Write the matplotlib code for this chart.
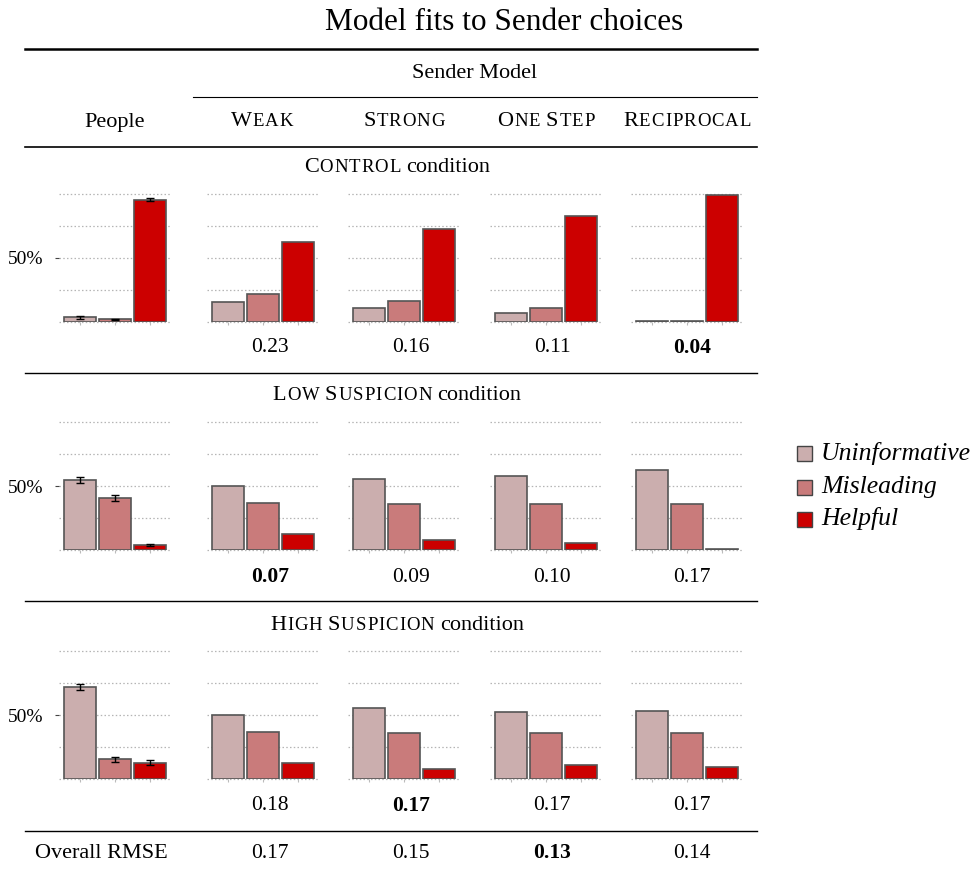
import numpy as np
import matplotlib
matplotlib.use("Agg")
import matplotlib.pyplot as plt
from matplotlib.lines import Line2D
from matplotlib.patches import Rectangle
from matplotlib.offsetbox import TextArea, HPacker, AnnotationBbox

SERIF = "Liberation Serif"
plt.rcParams["font.family"] = [SERIF, "DejaVu Serif"]

# ---------------------------------------------------------------- data
categories = ["Uninformative", "Misleading", "Helpful"]
bar_colors = ["#CBAEAE", "#C97B7B", "#CC0000"]
models = ["Weak", "Strong", "One Step", "Reciprocal"]
conditions = ["Control", "Low Suspicion", "High Suspicion"]

# share of sender choices per message type (people, then each model)
control_people = [0.034, 0.019, 0.955]
control_people_err = [0.010, 0.005, 0.010]
control_weak = [0.155, 0.220, 0.625]
control_strong = [0.107, 0.165, 0.728]
control_onestep = [0.066, 0.107, 0.827]
control_reciprocal = [0.005, 0.005, 0.990]

low_people = [0.550, 0.410, 0.040]
low_people_err = [0.024, 0.022, 0.007]
low_weak = [0.505, 0.370, 0.125]
low_strong = [0.560, 0.360, 0.080]
low_onestep = [0.580, 0.365, 0.055]
low_reciprocal = [0.630, 0.360, 0.010]

high_people = [0.720, 0.155, 0.130]
high_people_err = [0.024, 0.020, 0.020]
high_weak = [0.505, 0.370, 0.125]
high_strong = [0.560, 0.360, 0.080]
high_onestep = [0.525, 0.365, 0.110]
high_reciprocal = [0.535, 0.365, 0.100]

# RMSE of each model against people, per condition and overall
rmse_control = [0.23, 0.16, 0.11, 0.04]
rmse_low = [0.07, 0.09, 0.10, 0.17]
rmse_high = [0.18, 0.17, 0.17, 0.17]
rmse_overall = [0.17, 0.15, 0.13, 0.14]
# column set in bold in each row (lowest error; ties resolved by the table)
best_control, best_low, best_high, best_overall = 3, 0, 1, 2

people_rows = [control_people, low_people, high_people]
people_errs = [control_people_err, low_people_err, high_people_err]
model_rows = [
    [control_weak, control_strong, control_onestep, control_reciprocal],
    [low_weak, low_strong, low_onestep, low_reciprocal],
    [high_weak, high_strong, high_onestep, high_reciprocal],
]
rmse_rows = [rmse_control, rmse_low, rmse_high]
best_rows = [best_control, best_low, best_high]

# ---------------------------------------------------------------- layout
W, H = 979, 874
fig = plt.figure(figsize=(W / 100, H / 100), dpi=100)


def fx(x):
    return x / W


def fy(y):
    return 1 - y / H


BODY = 16
SMALL = 13.5
NUM = 15.5

col_left = [59, 207, 348, 490, 631]
col_width = 112
row_span = [(194.0, 321.7), (422.3, 550.3), (651.3, 779.3)]
header_x = [115, 262, 404, 546, 687]
number_x = [270, 411, 552, 692]
rmse_y = [348, 577, 806]
cond_title_y = [167, 395, 626]
rule_y = [373, 601, 831]
grid_levels = [0.0, 0.25, 0.5, 0.75, 1.0]


def hline(y, x0, x1, lw):
    fig.add_artist(Line2D([fx(x0), fx(x1)], [fy(y), fy(y)], color="black",
                          lw=lw, transform=fig.transFigure))


def caps_label(words, x, y):
    """Place words built from (text, size, letter-gap) pieces, centred at pixel (x, y)."""
    boxes = []
    for word in words:
        parts = []
        for text, size, gap in word:
            if gap:
                letters = [TextArea(ch, textprops=dict(fontsize=size, family=SERIF))
                           for ch in text]
                parts.append(HPacker(children=letters, sep=gap, pad=0,
                                     align="baseline"))
            else:
                parts.append(TextArea(text, textprops=dict(fontsize=size,
                                                           family=SERIF)))
        boxes.append(HPacker(children=parts, sep=0.7 if len(parts) > 1 else 0,
                             pad=0, align="baseline"))
    packed = HPacker(children=boxes, sep=4.0, pad=0, align="baseline")
    ab = AnnotationBbox(packed, (fx(x), fy(y)), xycoords="figure fraction",
                        frameon=False, box_alignment=(0.5, 0.5), pad=0)
    fig.add_artist(ab)


def sc(word):
    """Small-capitals word: first letter full size, rest reduced and spaced."""
    return [(word[0], BODY, 0), (word[1:].upper(), SMALL, 0.7)]


def draw_panel(ax, values, errs=None, show_y=False):
    x = np.arange(len(values))
    for lvl in grid_levels:
        ax.axhline(lvl, color="#b5b5b5", lw=0.9, ls=(0, (1.2, 1.8)),
                   zorder=0, clip_on=False)
    ax.bar(x, values, width=0.92, color=bar_colors, edgecolor="#555555",
           linewidth=1.2, zorder=2)
    if errs is not None:
        ax.errorbar(x, values, yerr=errs, fmt="none", ecolor="black",
                    elinewidth=1.0, capsize=3.2, capthick=1.0, zorder=3)
    ax.set_xlim(-0.6, 2.6)
    ax.set_ylim(0, 1)
    for sp in ax.spines.values():
        sp.set_visible(False)
    ax.set_xticks(x)
    ax.set_xticklabels([])
    ax.tick_params(axis="x", length=2, color="#bbbbbb", width=0.8)
    if show_y:
        ax.set_yticks([0.5])
        ax.set_yticklabels(["50%"], fontsize=14, family=SERIF)
        ax.tick_params(axis="y", length=3, width=0.8, color="#444444", pad=8)
    else:
        ax.set_yticks([])
    ax.patch.set_alpha(0)


# ---------------------------------------------------------------- title and header
fig.text(fx(504), fy(23), "Model fits to Sender choices", ha="center",
         va="center", fontsize=22.5, family=SERIF)
hline(49, 25, 757, 1.8)
fig.text(fx(475), fy(73), "Sender Model", ha="center", va="center",
         fontsize=BODY, family=SERIF)
hline(97, 193, 757, 0.8)
fig.text(fx(header_x[0]), fy(122), "People", ha="center", va="center",
         fontsize=BODY, family=SERIF)
for name, hx in zip(models, header_x[1:]):
    caps_label([sc(w) for w in name.split()], hx, 122)
hline(147, 25, 757, 1.2)

# ---------------------------------------------------------------- condition blocks
for r, cond in enumerate(conditions):
    words = [sc(w) for w in cond.split()] + [[("condition", BODY, 0)]]
    caps_label(words, 397, cond_title_y[r])

    top, bot = row_span[r]
    ax = fig.add_axes([fx(col_left[0]), fy(bot), col_width / W, (bot - top) / H])
    draw_panel(ax, people_rows[r], people_errs[r], show_y=True)
    for m in range(len(models)):
        ax = fig.add_axes([fx(col_left[m + 1]), fy(bot), col_width / W,
                           (bot - top) / H])
        draw_panel(ax, model_rows[r][m])

    for m, val in enumerate(rmse_rows[r]):
        fig.text(fx(number_x[m]), fy(rmse_y[r]), f"{val:.2f}", ha="center",
                 va="center", fontsize=NUM, family=SERIF,
                 fontweight="bold" if m == best_rows[r] else "normal")
    hline(rule_y[r], 25, 757, 1.0)

# ---------------------------------------------------------------- overall row
fig.text(fx(101), fy(853), "Overall RMSE", ha="center", va="center",
         fontsize=BODY, family=SERIF)
for m, val in enumerate(rmse_overall):
    fig.text(fx(number_x[m]), fy(853), f"{val:.2f}", ha="center", va="center",
             fontsize=NUM, family=SERIF,
             fontweight="bold" if m == best_overall else "normal")

# ---------------------------------------------------------------- legend
legend_y = [453, 487, 519]
for cat, col, ly in zip(categories, bar_colors, legend_y):
    fig.add_artist(Rectangle((fx(797), fy(ly + 7.5)), 15 / W, 15 / H,
                             facecolor=col, edgecolor="#444444", lw=1.0,
                             transform=fig.transFigure))
    fig.text(fx(821), fy(ly), cat, ha="left", va="center", fontsize=18.5,
             family=SERIF, style="italic")

fig.savefig("out.png", dpi=100, facecolor="white")
